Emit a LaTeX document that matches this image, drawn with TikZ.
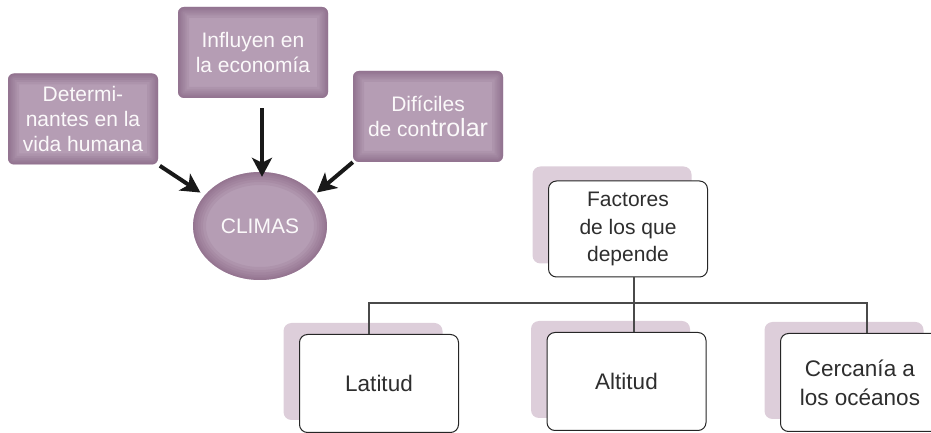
\documentclass[tikz,border=0pt]{standalone}
\usepackage{fontspec}
\setmainfont{Liberation Sans}
\usepackage{xcolor}
\usepackage{tikz}
\usetikzlibrary{arrows.meta,positioning,shapes.geometric}
\definecolor{malva}{HTML}{B59DB4}
\definecolor{malvadark}{HTML}{7E5879}
\definecolor{malvalight}{HTML}{DDCEDA}
\definecolor{textgray}{HTML}{2E2E2E}
\definecolor{linegray}{HTML}{4A4A4A}

\begin{document}
\begin{tikzpicture}[x=1pt, y=1pt,
  idea/.style={rectangle, rounded corners=6pt, fill=malva, text=white!94!malva,
    minimum width=150pt, minimum height=91pt, align=center, inner sep=2pt,
    font=\fontsize{21}{25}\selectfont,
    path picture={\foreach \w in {22,17,13,9,6,3}
      \draw[malvadark, line width=\w pt, opacity=.13, rounded corners=6pt]
        (path picture bounding box.south west) rectangle
        (path picture bounding box.north east);}},
  centro/.style={ellipse, fill=malva, text=white!94!malva,
    minimum width=134pt, minimum height=108pt, inner sep=0pt,
    font=\fontsize{21}{25}\selectfont,
    path picture={\foreach \w in {26,20,15,10,6,3}
      \draw[malvadark, line width=\w pt, opacity=.12]
        (path picture bounding box.center) ellipse [x radius=67, y radius=54];}},
  caja/.style={rectangle, draw=black!85, line width=1pt, rounded corners=8pt,
    fill=white, text=textgray, minimum width=159pt, minimum height=98pt,
    align=center, font=\fontsize{22.5}{29}\selectfont},
  sombra/.style={rectangle, rounded corners=8pt, fill=malvalight,
    minimum width=159pt, minimum height=97pt},
  flecha/.style={-{Stealth[length=19pt,width=20pt,inset=5pt]}, line width=4pt, black!90},
  rama/.style={draw=linegray, line width=1.2pt}
]
\useasboundingbox (0,0) rectangle (931,433);

%─── CLIMAS ─────────────────────────────────────────────────────────────────
\node[idea] (DET) at (83,314)    {Determi-\\nantes en la\\vida humana};
\node[idea] (INF) at (253,380.5) {Influyen en\\la economía};
\node[idea] (DIF) at (428,316.5) {Difíciles\\de con{\fontsize{25}{25}\selectfont trolar}};
\node[centro] (CLI) at (260,207) {CLIMAS};

\draw[flecha, shorten <=2pt, shorten >=5pt] (DET.south east) -- (CLI.151);
\draw[flecha, shorten <=10pt] ([xshift=9pt]INF.south) -- ([xshift=2pt,yshift=-5pt]CLI.north);
\draw[flecha, shorten >=3pt] (DIF.south west) -- (CLI.30);

%─── FACTORES ───────────────────────────────────────────────────────────────
\node[sombra] (FS) at (612,218) {};
\node[caja, minimum height=96pt, font=\fontsize{21}{27.5}\selectfont]
  (FAC) at ([shift={(16,-14)}]FS) {Factores\\de los que\\depende};

\node[sombra] (LS) at (363,61.5) {};
\node[caja] (LAT) at ([shift={(16,-12)}]LS) {Latitud};

\node[sombra] (AS) at (610.5,63.5) {};
\node[caja] (ALT) at ([shift={(16,-12)}]AS) {Altitud};

\node[sombra] (CS) at (844,62.5) {};
\node[caja] (CER) at ([shift={(16,-12)}]CS) {Cercanía a\\los océanos};

\coordinate (bus) at (0,130);
\draw[rama] ([xshift=6pt]FAC.south) -- ([xshift=7.5pt]ALT.north);
\draw[rama] ([xshift=-10pt]LAT.north) -- ([xshift=-10pt]LAT.north |- bus)
  -- ([xshift=7pt]CER.north |- bus) -- ([xshift=7pt]CER.north);

\end{tikzpicture}
\end{document}
